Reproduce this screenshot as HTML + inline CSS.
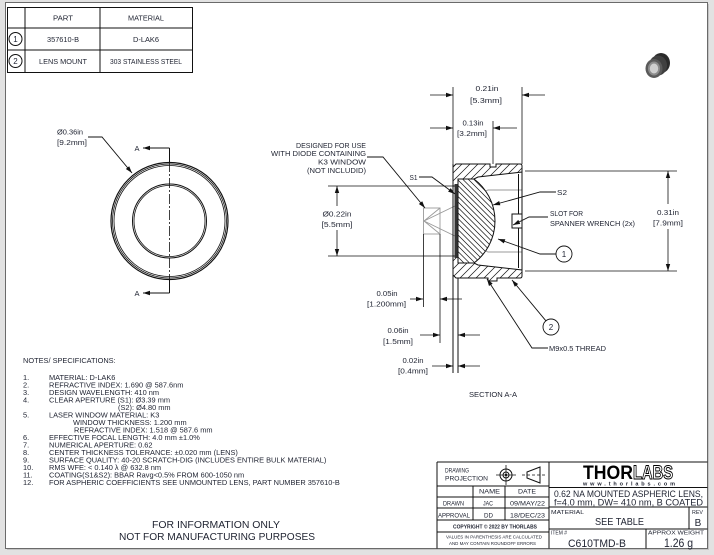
<!DOCTYPE html>
<html><head><meta charset="utf-8"><style>
html,body{margin:0;padding:0;background:#e2e2e2;}
svg{display:block;}
text{font-family:"Liberation Sans",sans-serif;fill:#1e2230;}
</style></head><body>
<svg width="714" height="555" viewBox="0 0 714 555" xmlns="http://www.w3.org/2000/svg">
<defs>
<clipPath id="cm">
<path d="M453,167 L456,164 L490,164 L490,167 L496,167 L496,164 L520,164 Q522,164 522,166 L522,172 L478,177 L474,179 L458,179 L458,186 L453,186 Z"/>
<path d="M453,275 L456,278 L488,278 L488,281 L497,281 L497,278 L520,278 Q522,278 522,276 L522,270 L478,265 L474,263 L458,263 L458,256 L453,256 Z"/>
</clipPath>
<clipPath id="cl">
<path d="M458,179 L474,179 A52.5,52.5 0 0 1 474,263 L458,263 Z"/>
</clipPath>
</defs>
<rect width="714" height="555" fill="#e2e2e2"/>
<rect x="7" y="4" width="702" height="546" fill="#c4c4c4"/>
<rect x="5.5" y="2.5" width="702" height="546" fill="#fff" stroke="#6a6a6a"/>

<!-- parts table -->
<g stroke="#111" stroke-width="1" fill="none">
<rect x="7.5" y="7.5" width="185" height="65"/>
<line x1="7.5" y1="28" x2="192.5" y2="28"/>
<line x1="7.5" y1="50" x2="192.5" y2="50"/>
<line x1="25" y1="7.5" x2="25" y2="72.5"/>
<line x1="100" y1="7.5" x2="100" y2="72.5"/>
<circle cx="15.5" cy="39" r="6.5"/>
<circle cx="15.5" cy="61" r="6.5"/>
</g>
<g font-size="7">
<text x="63" y="20.5" text-anchor="middle" textLength="20" lengthAdjust="spacingAndGlyphs">PART</text>
<text x="146" y="20.5" text-anchor="middle" textLength="36" lengthAdjust="spacingAndGlyphs">MATERIAL</text>
<text x="63" y="42" text-anchor="middle" textLength="32" lengthAdjust="spacingAndGlyphs">357610-B</text>
<text x="146" y="42" text-anchor="middle" textLength="26" lengthAdjust="spacingAndGlyphs">D-LAK6</text>
<text x="63" y="64" text-anchor="middle" textLength="48" lengthAdjust="spacingAndGlyphs">LENS MOUNT</text>
<text x="146" y="64" text-anchor="middle" textLength="72" lengthAdjust="spacingAndGlyphs">303 STAINLESS STEEL</text>
<text x="15.5" y="42" text-anchor="middle" font-size="8">1</text>
<text x="15.5" y="64" text-anchor="middle" font-size="8">2</text>
</g>

<!-- 3D icon -->
<g>
<ellipse cx="661" cy="63" rx="9" ry="10" fill="#2a2a2a"/>
<ellipse cx="658" cy="65.5" rx="9" ry="10" fill="#404040"/>
<ellipse cx="654" cy="68.5" rx="8.5" ry="9.5" fill="#5a5a5a"/>
<ellipse cx="654" cy="68.5" rx="6" ry="7" fill="#8c8c8c"/>
<ellipse cx="654" cy="68.5" rx="4.2" ry="5" fill="#cfcfcf"/>
</g>

<!-- front view -->
<g fill="none" stroke="#111">
<circle cx="169.5" cy="221" r="58.5" stroke-width="1.2"/>
<circle cx="169.5" cy="221" r="57" stroke-width="0.8"/>
<circle cx="169.5" cy="221" r="55.5" stroke-width="0.8"/>
<circle cx="169.5" cy="221" r="37" stroke-width="1"/>
<circle cx="169.5" cy="221" r="35.5" stroke-width="0.8"/>
<line x1="169.5" y1="148" x2="169.5" y2="162" stroke-width="1"/>
<line x1="169.5" y1="162" x2="169.5" y2="280" stroke-width="0.8" stroke-dasharray="10 2 2 2"/>
<line x1="169.5" y1="280" x2="169.5" y2="293" stroke-width="1"/>
<line x1="143" y1="148" x2="169.5" y2="148"/>
<line x1="143" y1="293" x2="169.5" y2="293"/>
<polyline points="88,137 102,137 132,173" stroke-width="0.9"/>
</g>
<g fill="#111">
<polygon points="143,148 150,145.8 150,150.2"/>
<polygon points="143,293 150,290.8 150,295.2"/>
<polygon points="132,173 125.83,169.03 129.21,166.21"/>
</g>
<g font-size="7.5">
<text x="137" y="151" text-anchor="middle">A</text>
<text x="137" y="296" text-anchor="middle">A</text>
<text x="57" y="134.5" font-size="7" textLength="26" lengthAdjust="spacingAndGlyphs">Ø0.36in</text>
<text x="57" y="145" font-size="7" textLength="30" lengthAdjust="spacingAndGlyphs">[9.2mm]</text>
</g>

<!-- section view -->
<g stroke="#9a9a9a" fill="none" stroke-width="0.9">
<polyline points="424,221 488,190 522,190"/>
<polyline points="424,221 488,252 522,252"/>
<rect x="423.5" y="208" width="16.5" height="26"/>
<polyline points="440,208 424,221 440,234"/>
</g>
<!-- mount walls -->
<path d="M453,167 L456,164 L490,164 L490,167 L496,167 L496,164 L520,164 Q522,164 522,166 L522,172 L478,177 L474,179 L458,179 L458,186 L453,186 Z" fill="#fff"/>
<path d="M453,275 L456,278 L488,278 L488,281 L497,281 L497,278 L520,278 Q522,278 522,276 L522,270 L478,265 L474,263 L458,263 L458,256 L453,256 Z" fill="#fff"/>
<path clip-path="url(#cm)" stroke="#111" stroke-width="0.7" fill="none" d="M328,290 l140,-140 M336,290 l140,-140 M344,290 l140,-140 M352,290 l140,-140 M360,290 l140,-140 M368,290 l140,-140 M376,290 l140,-140 M384,290 l140,-140 M392,290 l140,-140 M400,290 l140,-140 M408,290 l140,-140 M416,290 l140,-140 M424,290 l140,-140 M432,290 l140,-140 M440,290 l140,-140 M448,290 l140,-140 M456,290 l140,-140 M464,290 l140,-140 M472,290 l140,-140 M480,290 l140,-140 M488,290 l140,-140 M496,290 l140,-140 M504,290 l140,-140 M512,290 l140,-140"/>
<path d="M453,167 L456,164 L490,164 L490,167 L496,167 L496,164 L520,164 Q522,164 522,166 L522,172 L478,177 L474,179 L458,179 L458,186 L453,186 Z" fill="none" stroke="#111" stroke-width="1"/>
<path d="M453,275 L456,278 L488,278 L488,281 L497,281 L497,278 L520,278 Q522,278 522,276 L522,270 L478,265 L474,263 L458,263 L458,256 L453,256 Z" fill="none" stroke="#111" stroke-width="1"/>
<!-- lens -->
<path d="M458,179 L474,179 A52.5,52.5 0 0 1 474,263 L458,263 Z" fill="#fff"/>
<path clip-path="url(#cl)" stroke="#111" stroke-width="0.7" fill="none" d="M360,170 l100,100 M365.5,170 l100,100 M371,170 l100,100 M376.5,170 l100,100 M382,170 l100,100 M387.5,170 l100,100 M393,170 l100,100 M398.5,170 l100,100 M404,170 l100,100 M409.5,170 l100,100 M415,170 l100,100 M420.5,170 l100,100 M426,170 l100,100 M431.5,170 l100,100 M437,170 l100,100 M442.5,170 l100,100 M448,170 l100,100 M453.5,170 l100,100 M459,170 l100,100 M464.5,170 l100,100 M470,170 l100,100 M475.5,170 l100,100 M481,170 l100,100 M486.5,170 l100,100 M492,170 l100,100"/>
<path d="M458,179 L474,179 A52.5,52.5 0 0 1 474,263 L458,263 Z" fill="none" stroke="#111" stroke-width="1"/>
<rect x="454.5" y="184" width="3.2" height="74" fill="#333"/>
<g stroke="#111" fill="none" stroke-width="1">
<line x1="453" y1="164" x2="453" y2="373"/>
<line x1="458" y1="278" x2="458" y2="373"/>
<line x1="522" y1="166" x2="522" y2="276"/>
<line x1="518.5" y1="174" x2="518.5" y2="214"/>
<line x1="518.5" y1="228" x2="518.5" y2="268"/>
<polyline points="522,214 512,214 512,228 522,228"/>
<line x1="453" y1="87" x2="453" y2="164" stroke-width="0.8"/>
<line x1="522" y1="87" x2="522" y2="164" stroke-width="0.8"/>
<line x1="493" y1="121" x2="493" y2="164" stroke-width="0.8"/>
<line x1="423.5" y1="234" x2="423.5" y2="307" stroke-width="0.8"/>
<line x1="440" y1="234" x2="440" y2="343" stroke-width="0.8"/>
<line x1="430" y1="95" x2="453" y2="95" stroke-width="0.8"/>
<line x1="522" y1="95" x2="545" y2="95" stroke-width="0.8"/>
<line x1="430" y1="128" x2="453" y2="128" stroke-width="0.8"/>
<line x1="493" y1="128" x2="517" y2="128" stroke-width="0.8"/>
<line x1="328" y1="186" x2="453" y2="186" stroke-width="0.8"/>
<line x1="328" y1="256" x2="453" y2="256" stroke-width="0.8"/>
<line x1="337" y1="186" x2="337" y2="206" stroke-width="0.8"/>
<line x1="337" y1="230" x2="337" y2="256" stroke-width="0.8"/>
<line x1="525" y1="171" x2="677" y2="171" stroke-width="0.8"/>
<line x1="525" y1="271" x2="677" y2="271" stroke-width="0.8"/>
<line x1="668" y1="171" x2="668" y2="204" stroke-width="0.8"/>
<line x1="668" y1="229" x2="668" y2="271" stroke-width="0.8"/>
<line x1="410" y1="299" x2="423" y2="299" stroke-width="0.8"/>
<line x1="440" y1="299" x2="462" y2="299" stroke-width="0.8"/>
<line x1="420" y1="335" x2="440" y2="335" stroke-width="0.8"/>
<line x1="458" y1="335" x2="480" y2="335" stroke-width="0.8"/>
<line x1="432" y1="366" x2="453" y2="366" stroke-width="0.8"/>
<line x1="458" y1="366" x2="480" y2="366" stroke-width="0.8"/>
<polyline points="367,157 383,157 425,208" stroke-width="0.9"/>
<polyline points="419,177 432,177 455,194" stroke-width="0.9"/>
<polyline points="556,192 540,192 493,205" stroke-width="0.9"/>
<polyline points="548,217 529,217 513,225" stroke-width="0.9"/>
<polyline points="556,254 540,254 498,239" stroke-width="0.9"/>
<polyline points="545.9,320.8 512,280" stroke-width="0.9"/>
<polyline points="487,279 532,348 548,348" stroke-width="0.9"/>
<circle cx="564" cy="254" r="8" stroke-width="0.9"/>
<circle cx="551" cy="327" r="8" stroke-width="0.9"/>
</g>
<g fill="#111">
<polygon points="453,95 446,92.8 446,97.2"/>
<polygon points="522,95 529,92.8 529,97.2"/>
<polygon points="453,128 446,125.8 446,130.2"/>
<polygon points="493,128 500,125.8 500,130.2"/>
<polygon points="337,186 334.8,193 339.2,193"/>
<polygon points="337,256 334.8,249 339.2,249"/>
<polygon points="668,171 665.8,178 670.2,178"/>
<polygon points="668,271 665.8,264 670.2,264"/>
<polygon points="423,299 416,296.8 416,301.2"/>
<polygon points="440,299 447,296.8 447,301.2"/>
<polygon points="440,335 433,332.8 433,337.2"/>
<polygon points="458,335 465,332.8 465,337.2"/>
<polygon points="453,366 446,363.8 446,368.2"/>
<polygon points="458,366 465,363.8 465,368.2"/>
<polygon points="425,208 418.85,204 422.25,201.2"/>
<polygon points="455,194 448.06,191.61 450.68,188.07"/>
<polygon points="493,205 499.16,201.01 500.34,205.25"/>
<polygon points="513,225 518.28,219.9 520.24,223.84"/>
<polygon points="498,239 505.33,239.28 503.85,243.42"/>
<polygon points="512,280 518.15,284 514.75,286.8"/>
<polygon points="487,279 492.66,283.66 488.98,286.06"/>
</g>
<g font-size="7">
<text x="487" y="91" text-anchor="middle" textLength="23" lengthAdjust="spacingAndGlyphs">0.21in</text>
<text x="486" y="103" text-anchor="middle" textLength="32" lengthAdjust="spacingAndGlyphs">[5.3mm]</text>
<text x="473" y="125.5" text-anchor="middle" textLength="21" lengthAdjust="spacingAndGlyphs">0.13in</text>
<text x="472" y="136" text-anchor="middle" textLength="30" lengthAdjust="spacingAndGlyphs">[3.2mm]</text>
<text x="337" y="216.5" text-anchor="middle" textLength="29" lengthAdjust="spacingAndGlyphs">Ø0.22in</text>
<text x="337" y="227" text-anchor="middle" textLength="31" lengthAdjust="spacingAndGlyphs">[5.5mm]</text>
<text x="668" y="215" text-anchor="middle" textLength="22" lengthAdjust="spacingAndGlyphs">0.31in</text>
<text x="668" y="225.5" text-anchor="middle" textLength="30" lengthAdjust="spacingAndGlyphs">[7.9mm]</text>
<text x="366" y="148" text-anchor="end" textLength="70" lengthAdjust="spacingAndGlyphs">DESIGNED FOR USE</text>
<text x="366" y="156" text-anchor="end" textLength="95" lengthAdjust="spacingAndGlyphs">WITH DIODE CONTAINING</text>
<text x="366" y="164.5" text-anchor="end" textLength="48" lengthAdjust="spacingAndGlyphs">K3 WINDOW</text>
<text x="366" y="173" text-anchor="end" textLength="59" lengthAdjust="spacingAndGlyphs">(NOT INCLUDID)</text>
<text x="409.5" y="180" textLength="8" lengthAdjust="spacingAndGlyphs">S1</text>
<text x="557" y="195" textLength="10" lengthAdjust="spacingAndGlyphs">S2</text>
<text x="550" y="216" textLength="33" lengthAdjust="spacingAndGlyphs">SLOT FOR</text>
<text x="550" y="226" textLength="85" lengthAdjust="spacingAndGlyphs">SPANNER WRENCH (2x)</text>
<text x="564" y="257" text-anchor="middle" font-size="8">1</text>
<text x="551" y="330" text-anchor="middle" font-size="8">2</text>
<text x="549" y="351" textLength="57" lengthAdjust="spacingAndGlyphs">M9x0.5 THREAD</text>
<text x="387" y="296" text-anchor="middle" textLength="21" lengthAdjust="spacingAndGlyphs">0.05in</text>
<text x="386.5" y="306.5" text-anchor="middle" textLength="39" lengthAdjust="spacingAndGlyphs">[1.200mm]</text>
<text x="398" y="333" text-anchor="middle" textLength="21" lengthAdjust="spacingAndGlyphs">0.06in</text>
<text x="398" y="344" text-anchor="middle" textLength="30" lengthAdjust="spacingAndGlyphs">[1.5mm]</text>
<text x="413" y="363" text-anchor="middle" textLength="21" lengthAdjust="spacingAndGlyphs">0.02in</text>
<text x="413" y="373.5" text-anchor="middle" textLength="30" lengthAdjust="spacingAndGlyphs">[0.4mm]</text>
<text x="493" y="397" text-anchor="middle" textLength="48" lengthAdjust="spacingAndGlyphs">SECTION A-A</text>
</g>

<!-- notes -->
<g font-size="7.4">
<text x="23" y="363">NOTES/ SPECIFICATIONS:</text>
<text x="23" y="380">1.</text>
<text x="23" y="387.5">2.</text>
<text x="23" y="395">3.</text>
<text x="23" y="402.5">4.</text>
<text x="23" y="417.5">5.</text>
<text x="23" y="440">6.</text>
<text x="23" y="447.5">7.</text>
<text x="23" y="455">8.</text>
<text x="23" y="462.5">9.</text>
<text x="23" y="470">10.</text>
<text x="23" y="477.5">11.</text>
<text x="23" y="485">12.</text>
<text x="49" y="380">MATERIAL: D-LAK6</text>
<text x="49" y="387.5">REFRACTIVE INDEX: 1.690 @ 587.6nm</text>
<text x="49" y="395">DESIGN WAVELENGTH: 410 nm</text>
<text x="49" y="402.5">CLEAR APERTURE (S1): Ø3.39 mm</text>
<text x="118" y="410">(S2): Ø4.80 mm</text>
<text x="49" y="417.5">LASER WINDOW MATERIAL: K3</text>
<text x="73" y="425">WINDOW THICKNESS: 1.200 mm</text>
<text x="74" y="432.5">REFRACTIVE INDEX: 1.518 @ 587.6 mm</text>
<text x="49" y="440">EFFECTIVE FOCAL LENGTH: 4.0 mm ±1.0%</text>
<text x="49" y="447.5">NUMERICAL APERTURE: 0.62</text>
<text x="49" y="455">CENTER THICKNESS TOLERANCE:  ±0.020 mm (LENS)</text>
<text x="49" y="462.5">SURFACE QUALITY: 40-20 SCRATCH-DIG (INCLUDES ENTIRE BULK MATERIAL)</text>
<text x="49" y="470">RMS WFE: &lt; 0.140 λ @ 632.8 nm</text>
<text x="49" y="477.5">COATING(S1&amp;S2): BBAR Ravg&lt;0.5% FROM 600-1050 nm</text>
<text x="49" y="485">FOR ASPHERIC COEFFICIENTS SEE UNMOUNTED LENS, PART NUMBER 357610-B</text>
</g>
<g font-size="10">
<text x="216" y="528" text-anchor="middle" textLength="128" lengthAdjust="spacingAndGlyphs">FOR INFORMATION ONLY</text>
<text x="217" y="540" text-anchor="middle" textLength="196" lengthAdjust="spacingAndGlyphs">NOT FOR MANUFACTURING PURPOSES</text>
</g>

<!-- title block -->
<g stroke="#111" stroke-width="1" fill="none">
<line x1="437" y1="462" x2="707.5" y2="462"/>
<line x1="437" y1="462" x2="437" y2="548.5"/>
<line x1="549" y1="462" x2="549" y2="548.5"/>
<line x1="437" y1="486" x2="549" y2="486"/>
<line x1="437" y1="497" x2="549" y2="497"/>
<line x1="437" y1="508" x2="549" y2="508"/>
<line x1="437" y1="520" x2="549" y2="520"/>
<line x1="437" y1="532" x2="549" y2="532"/>
<line x1="473" y1="486" x2="473" y2="520"/>
<line x1="505" y1="486" x2="505" y2="520"/>
<line x1="549" y1="487.5" x2="707.5" y2="487.5"/>
<line x1="549" y1="507" x2="707.5" y2="507"/>
<line x1="549" y1="529" x2="707.5" y2="529"/>
<line x1="689" y1="507" x2="689" y2="529"/>
<line x1="646" y1="529" x2="646" y2="548.5"/>
<circle cx="506" cy="475" r="6" stroke-width="1"/>
<circle cx="506" cy="475" r="3" stroke-width="1"/>
<line x1="496" y1="475" x2="516" y2="475" stroke-width="0.8"/>
<line x1="506" y1="465" x2="506" y2="485" stroke-width="0.8"/>
<polygon points="527,472 540,467 540,483 527,478" stroke-width="1"/>
<line x1="522" y1="475" x2="545" y2="475" stroke-width="0.8" stroke-dasharray="3 2"/>
</g>
<circle cx="506" cy="475" r="1.2" fill="#111"/>
<g font-size="6.5">
<text x="445" y="472.5" textLength="24" lengthAdjust="spacingAndGlyphs">DRAWING</text>
<text x="445" y="480.5" textLength="43" lengthAdjust="spacingAndGlyphs">PROJECTION</text>
<text x="489.5" y="493.5" text-anchor="middle" textLength="21" lengthAdjust="spacingAndGlyphs">NAME</text>
<text x="527" y="493.5" text-anchor="middle" textLength="18" lengthAdjust="spacingAndGlyphs">DATE</text>
<text x="453.5" y="505.5" text-anchor="middle" textLength="21" lengthAdjust="spacingAndGlyphs">DRAWN</text>
<text x="488" y="505.5" text-anchor="middle" textLength="10" lengthAdjust="spacingAndGlyphs">JAC</text>
<text x="527.5" y="505.5" text-anchor="middle" textLength="35" lengthAdjust="spacingAndGlyphs">09/MAY/22</text>
<text x="454" y="517.5" text-anchor="middle" textLength="32" lengthAdjust="spacingAndGlyphs">APPROVAL</text>
<text x="488.5" y="517.5" text-anchor="middle" textLength="9" lengthAdjust="spacingAndGlyphs">DD</text>
<text x="527.5" y="517.5" text-anchor="middle" textLength="35" lengthAdjust="spacingAndGlyphs">18/DEC/23</text>
<text x="495" y="528.5" text-anchor="middle" font-size="5" font-weight="bold" textLength="84" lengthAdjust="spacingAndGlyphs">COPYRIGHT © 2022 BY THORLABS</text>
<text x="494" y="538.5" text-anchor="middle" font-size="4.8" textLength="96" lengthAdjust="spacingAndGlyphs">VALUES IN PARENTHESIS ARE CALCULATED</text>
<text x="492.5" y="545" text-anchor="middle" font-size="4.8" textLength="87" lengthAdjust="spacingAndGlyphs">AND MAY CONTAIN ROUNDOFF ERRORS</text>
</g>
<text x="583" y="479" font-size="19" font-weight="bold" style="fill:#000" textLength="50" lengthAdjust="spacingAndGlyphs">THOR</text>
<text x="633" y="479" font-size="19" font-weight="bold" style="fill:#fff;stroke:#000;stroke-width:1" textLength="40" lengthAdjust="spacingAndGlyphs">LABS</text>
<text x="583" y="485.5" font-size="5.5" font-weight="bold" textLength="92" lengthAdjust="spacing">www.thorlabs.com</text>
<text x="554" y="497" font-size="9" textLength="149" lengthAdjust="spacingAndGlyphs">0.62 NA MOUNTED ASPHERIC LENS,</text>
<text x="554" y="505.5" font-size="9" textLength="149" lengthAdjust="spacingAndGlyphs">f=4.0 mm, DW= 410 nm, B COATED</text>
<text x="551" y="514" font-size="5.5" textLength="33" lengthAdjust="spacingAndGlyphs">MATERIAL</text>
<text x="619.5" y="525" font-size="10" text-anchor="middle" textLength="49" lengthAdjust="spacingAndGlyphs">SEE TABLE</text>
<text x="692" y="514" font-size="5.5" textLength="11" lengthAdjust="spacingAndGlyphs">REV</text>
<text x="698" y="526" font-size="10" text-anchor="middle">B</text>
<text x="551" y="534.5" font-size="5.5" textLength="16" lengthAdjust="spacingAndGlyphs">ITEM #</text>
<text x="648" y="534.5" font-size="5.5" textLength="56" lengthAdjust="spacingAndGlyphs">APPROX WEIGHT</text>
<text x="597" y="547" font-size="11" text-anchor="middle" textLength="58" lengthAdjust="spacingAndGlyphs">C610TMD-B</text>
<text x="678.5" y="547" font-size="12" text-anchor="middle" textLength="29" lengthAdjust="spacingAndGlyphs">1.26 g</text>
</svg>
</body></html>
